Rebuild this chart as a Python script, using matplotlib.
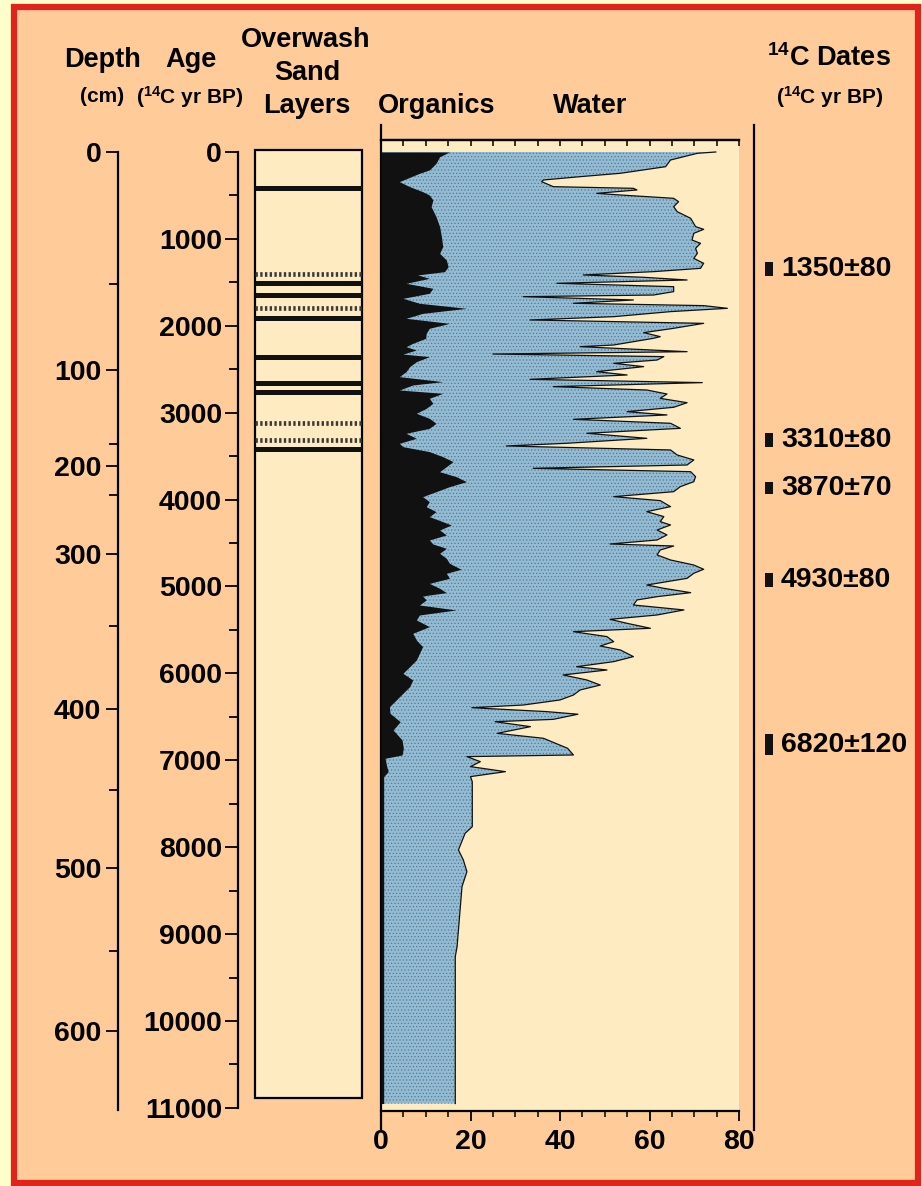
import matplotlib
matplotlib.use("Agg")
import matplotlib.pyplot as plt
from matplotlib.patches import Rectangle

plt.rcParams['font.family'] = ['Liberation Sans', 'DejaVu Sans']
plt.rcParams['font.weight'] = 'bold'
plt.rcParams['mathtext.fontset'] = 'custom'
plt.rcParams['mathtext.rm'] = 'Liberation Sans:bold'
plt.rcParams['mathtext.it'] = 'Liberation Sans:bold'
plt.rcParams['mathtext.bf'] = 'Liberation Sans:bold'
plt.rcParams['hatch.linewidth'] = 0.5
plt.rcParams['hatch.color'] = '#56788c'

# ---- data ----
# depth scale (cm) and the age each depth tick sits at
depth_major = [0, 100, 200, 300, 400, 500, 600]
depth_major_age = [0, 2509, 3613, 4626, 6410, 8240, 10115]
depth_minor_age = [1519, 3360, 3947, 5455, 7342, 9195]

age_major = [0, 1000, 2000, 3000, 4000, 5000, 6000, 7000, 8000, 9000, 10000, 11000]
age_minor = [500, 1500, 2500, 3500, 4500, 5500, 6500, 7500, 8500, 9500, 10500]

# overwash sand layers (age, yr BP)
sand_solid = [411, 1504, 1646, 1906, 2355, 2655, 2758, 3422]
sand_dotted = [1404, 1796, 3115, 3314]

# water content (%)
water_age = [0, 15, 92, 169, 245, 284, 322, 341, 399, 418, 437, 476, 495, 533, 572,
             629, 687, 763, 859, 890, 936, 1013, 1051, 1109, 1166, 1224, 1281, 1339,
             1377, 1415, 1442, 1473, 1511, 1550, 1607, 1646, 1665, 1703, 1741, 1768,
             1799, 1837, 1895, 1933, 1972, 2029, 2079, 2125, 2144, 2221, 2240, 2298,
             2325, 2355, 2394, 2432, 2470, 2528, 2566, 2616, 2654, 2700, 2739, 2785,
             2835, 2885, 2938, 2988, 3026, 3076, 3122, 3180, 3237, 3295, 3352, 3383,
             3429, 3487, 3544, 3602, 3640, 3679, 3736, 3794, 3851, 3909, 3966, 4012,
             4081, 4139, 4196, 4254, 4292, 4350, 4407, 4465, 4511, 4534, 4580, 4637,
             4695, 4753, 4802, 4848, 4906, 4983, 5021, 5071, 5117, 5155, 5213, 5270,
             5328, 5378, 5424, 5481, 5520, 5577, 5635, 5685, 5731, 5807, 5865, 5923,
             5961, 6018, 6076, 6134, 6191, 6249, 6306, 6364, 6395, 6440, 6470, 6529,
             6556, 6613, 6690, 6747, 6862, 6939, 6958, 7016, 7073, 7131, 7188, 7246,
             7764, 7840, 8032, 8147, 8282, 8454, 9145, 9260, 10950]
water_pct = [74.8, 70.7, 64.7, 63.6, 53.5, 44.5, 36.3, 35.9, 38.5, 56.4, 57.2, 48.2, 53.5,
             65.4, 66.5, 65.4, 66.2, 69.2, 70.3, 72.1, 69.9, 69.5, 71.4, 70.3, 70.7, 69.9,
             72.1, 71.4, 60.9, 45.2, 58.7, 68.4, 39.3, 65.4, 65.4, 60.9, 31.8, 56.4, 43.0,
             72.1, 77.4, 64.7, 52.0, 33.3, 72.1, 65.4, 58.7, 62.4, 60.9, 52.0, 44.5, 68.4,
             25.0, 63.2, 61.7, 52.0, 58.7, 48.2, 55.0, 33.3, 71.8, 38.5, 59.4, 63.9, 62.4,
             68.4, 65.4, 55.0, 63.9, 43.0, 64.7, 66.9, 46.0, 59.4, 41.5, 28.0, 64.7, 66.2,
             69.9, 68.4, 34.0, 69.2, 70.3, 69.9, 66.9, 65.4, 52.0, 62.4, 64.7, 59.4, 63.2,
             62.4, 64.7, 61.7, 63.9, 61.7, 51.2, 65.4, 62.4, 61.7, 64.7, 69.9, 72.1, 69.9,
             68.4, 59.4, 63.2, 69.2, 61.7, 57.2, 56.4, 67.7, 61.7, 51.2, 55.0, 60.2, 43.0,
             50.5, 52.0, 49.0, 53.5, 56.4, 52.0, 43.7, 50.5, 40.7, 46.0, 49.0, 44.5, 43.0,
             40.0, 31.8, 20.3, 37.0, 44.0, 38.5, 25.5, 33.4, 26.0, 36.3, 41.7, 43.0, 19.2,
             22.2, 20.0, 27.8, 20.0, 20.4, 20.4, 18.8, 17.3, 18.4, 19.2, 18.1, 17.0, 16.6,
             16.6]

# organic content (%)
org_age = [0, 54, 130, 207, 245, 341, 399, 456, 495, 552, 629, 744, 859, 974, 1089,
           1166, 1243, 1320, 1377, 1415, 1454, 1511, 1569, 1626, 1684, 1741, 1799, 1857,
           1914, 1972, 2029, 2087, 2144, 2202, 2240, 2279, 2325, 2355, 2413, 2470, 2528,
           2585, 2643, 2681, 2739, 2777, 2835, 2892, 2950, 3007, 3065, 3122, 3180, 3237,
           3295, 3352, 3391, 3448, 3506, 3563, 3621, 3679, 3736, 3794, 3851, 3909, 3966,
           4024, 4081, 4139, 4196, 4254, 4292, 4350, 4407, 4465, 4511, 4561, 4618, 4676,
           4733, 4802, 4848, 4906, 4964, 5021, 5071, 5109, 5155, 5213, 5270, 5328, 5385,
           5462, 5539, 5616, 5692, 5769, 5846, 5923, 5999, 6076, 6153, 6229, 6306, 6383,
           6459, 6556, 6651, 6766, 6862, 6939, 6977, 7073, 7131, 7188, 10950]
org_pct = [15.3, 13.1, 12.3, 10.8, 8.6, 4.1, 6.4, 9.3, 10.8, 11.6, 11.2, 12.3, 13.1, 13.5,
           13.8, 13.1, 14.6, 15.0, 14.2, 8.2, 10.8, 5.6, 11.6, 10.8, 4.9, 8.6, 19.1, 9.3,
           5.6, 15.3, 10.8, 10.1, 10.0, 7.1, 5.6, 7.9, 4.9, 10.8, 7.9, 6.4, 5.6, 4.1, 13.8,
           7.1, 4.1, 13.8, 10.8, 11.6, 10.1, 7.9, 10.8, 12.3, 10.8, 5.6, 7.9, 4.1, 4.9,
           10.8, 13.8, 16.1, 14.6, 13.1, 16.8, 19.1, 15.3, 12.3, 9.3, 10.8, 10.1, 12.3,
           10.8, 13.8, 15.7, 13.1, 14.6, 10.8, 11.6, 14.6, 13.1, 14.6, 15.3, 17.9, 14.6,
           15.3, 10.8, 13.1, 14.6, 9.3, 10.1, 8.6, 16.8, 8.6, 7.9, 10.8, 7.1, 7.9, 9.3,
           8.6, 7.9, 6.4, 4.9, 7.1, 6.4, 4.9, 3.4, 1.9, 2.0, 4.3, 2.7, 4.7, 5.0, 4.7, 0.9,
           1.3, 1.6, 0.6, 0.6]

# radiocarbon dates
c14_date = [1350, 3310, 3870, 4930, 6820]
c14_err = [80, 80, 70, 80, 120]

pct_major = [0, 20, 40, 60, 80]
pct_minor = [5, 10, 15, 25, 30, 35, 45, 50, 55, 65, 70, 75]

# ---- styling ----
ORANGE = '#FFCB99'
CREAM = '#FFEBC2'
RED = '#E0231B'
BLUE = '#93BCD4'
FS = 20.5    # tick / date labels
FT = 19.5    # headings
FSUB = 15    # sub headings

W, H = 922, 1186
fig = plt.figure(figsize=(W / 100, H / 100), dpi=100)
fig.patch.set_facecolor('#FFFFCC')
fig.patches.append(Rectangle((14 / W, 1 - 1183 / H), (918 - 14) / W, (1183 - 7) / H,
                             transform=fig.transFigure, facecolor=ORANGE,
                             edgecolor=RED, lw=4.5, zorder=-10))

YLIM = (11036, -138)


def px_axes(x0, x1):
    a = fig.add_axes([x0 / W, 1 - 1111 / H, (x1 - x0) / W, 971 / H])
    a.set_zorder(2)
    a.set_ylim(*YLIM)
    a.patch.set_visible(False)
    for s in a.spines.values():
        s.set_visible(False)
    a.set_xticks([])
    a.set_yticks([])
    return a


def ftext(x, y, s, size, **kw):
    fig.text(x / W, 1 - y / H, s, fontsize=size, fontweight='bold',
             ha='center', va='center', **kw)


# depth axis
ax_d = px_axes(118, 119)
ax_d.spines['left'].set_visible(True)
ax_d.spines['left'].set_linewidth(1.6)
ax_d.spines['left'].set_bounds(0, 11024)
ax_d.set_yticks(depth_major_age)
ax_d.set_yticklabels([str(d) for d in depth_major], fontsize=FS, fontweight='bold')
ax_d.set_yticks(depth_minor_age, minor=True)
ax_d.tick_params(axis='y', which='major', length=9, width=1.3, pad=3)
ax_d.tick_params(axis='y', which='minor', length=6.5, width=1.3)

# age axis
ax_a = px_axes(238, 239)
ax_a.spines['left'].set_visible(True)
ax_a.spines['left'].set_linewidth(1.6)
ax_a.spines['left'].set_bounds(0, 11000)
ax_a.set_yticks(age_major)
ax_a.set_yticklabels([str(a) for a in age_major], fontsize=FS, fontweight='bold')
ax_a.set_yticks(age_minor, minor=True)
ax_a.tick_params(axis='y', which='major', length=9.5, width=1.3, pad=2)
ax_a.tick_params(axis='y', which='minor', length=6.5, width=1.3)

# overwash sand layers
ax_s = px_axes(255, 362)
ax_s.set_xlim(0, 1)
ax_s.add_patch(Rectangle((0, -23), 1, 10909, facecolor=CREAM, edgecolor='black',
                         lw=1.6, clip_on=False))
ax_s.hlines(sand_solid, 0, 1, color='#111111', lw=3.6, zorder=3)
ax_s.hlines(sand_dotted, 0, 1, color='#3a3a3a', lw=3.4, linestyles=(0, (0.5, 0.5)),
            zorder=3)

# organics / water panel
ax = px_axes(381, 739)
ax.patch.set_visible(True)
ax.set_facecolor(CREAM)
ax.set_xlim(0, 80)
ax.fill_betweenx(water_age, 0, water_pct, facecolor=BLUE, hatch='.....', lw=0, zorder=2)
ax.plot(water_pct, water_age, color='#111111', lw=0.9, zorder=3)
ax.fill_betweenx(org_age, 0, org_pct, color='#111111', lw=0, zorder=4)
for side in ('top', 'bottom', 'left'):
    ax.spines[side].set_visible(True)
    ax.spines[side].set_linewidth(1.6)
ax.spines['left'].set_bounds(-311, 11254)
ax.set_xticks(pct_major)
ax.set_xticklabels([str(p) for p in pct_major], fontsize=FS, fontweight='bold')
ax.set_xticks(pct_minor, minor=True)
ax.tick_params(axis='x', which='major', direction='out', length=7, width=1.3, pad=6)
ax.tick_params(axis='x', which='minor', direction='out', length=4.5, width=1.1)
top = ax.secondary_xaxis('top')
top.set_xticks(pct_major + pct_minor)
top.set_xticklabels([])
top.tick_params(direction='in', length=4, width=1.1)
top.spines['top'].set_linewidth(1.6)

# 14C dates column
ax_t = px_axes(754, 918)
ax_t.set_xlim(0, 164)
ax_t.spines['left'].set_visible(True)
ax_t.spines['left'].set_linewidth(1.6)
ax_t.spines['left'].set_bounds(-311, 11254)
ax_t.bar([11] * len(c14_date), [2 * e for e in c14_err],
         bottom=[d - e for d, e in zip(c14_date, c14_err)],
         width=8, align='edge', color='#111111')
for d, e in zip(c14_date, c14_err):
    ax_t.text(27, d, f'{d}\u00b1{e}', fontsize=FS, fontweight='bold',
              ha='left', va='center')

# headings
ftext(102, 60, 'Depth', FT)
ftext(102, 97, '(cm)', FSUB)
ftext(191, 60, 'Age', FT)
ftext(190, 97, '($^{14}$C yr BP)', FSUB)
ftext(306, 40, 'Overwash', FT)
ftext(307, 73, 'Sand', FT)
ftext(307, 106, 'Layers', FT)
ftext(437, 106, 'Organics', FT)
ftext(590, 106, 'Water', FT)
ftext(829, 58, '$^{14}$C Dates', FT)
ftext(830, 97, '($^{14}$C yr BP)', FSUB)

fig.savefig('out.png', dpi=100, facecolor=fig.get_facecolor())
